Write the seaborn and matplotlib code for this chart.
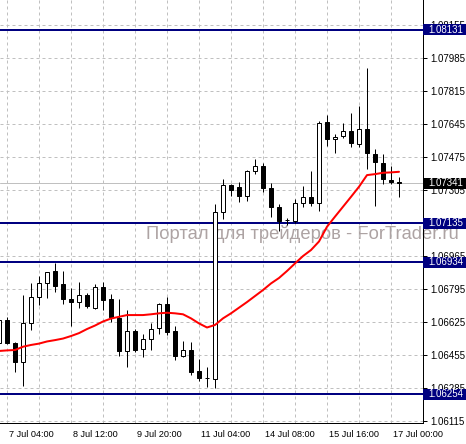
import matplotlib
matplotlib.use('Agg')
import matplotlib.pyplot as plt
import matplotlib.transforms as mtransforms
from matplotlib.patches import Rectangle
import pandas as pd
import seaborn as sns

# H4 bars, indexed by position on the chart (MT4 style, no time gaps)
bar_idx = list(range(-1, 50))
opens = [1.06515, 1.06635, 1.06515, 1.06421, 1.06618, 1.06752, 1.06824, 1.06889, 1.06819, 1.06744,
         1.06727, 1.06764, 1.06699, 1.06807, 1.06742, 1.06647, 1.06477, 1.06577, 1.06484, 1.06536,
         1.06593, 1.06716, 1.06579, 1.06451, 1.06479, 1.06373, 1.06339, 1.06330, 1.07190, 1.07331,
         1.07319, 1.07276, 1.07401, 1.07429, 1.07314, 1.07216, 1.07150, 1.07147, 1.07236, 1.07267,
         1.07240, 1.07654, 1.07566, 1.07585, 1.07611, 1.07540, 1.07618, 1.07489, 1.07443, 1.07357,
         1.07348]
closes = [1.06635, 1.06515, 1.06421, 1.06618, 1.06752, 1.06824, 1.06881, 1.06812, 1.06742, 1.06730,
          1.06764, 1.06709, 1.06807, 1.06738, 1.06649, 1.06477, 1.06577, 1.06481, 1.06536, 1.06587,
          1.06716, 1.06575, 1.06451, 1.06479, 1.06369, 1.06338, 1.06339, 1.07192, 1.07329, 1.07305,
          1.07276, 1.07401, 1.07429, 1.07314, 1.07216, 1.07147, 1.07150, 1.07236, 1.07267, 1.07240,
          1.07649, 1.07566, 1.07580, 1.07611, 1.07546, 1.07618, 1.07494, 1.07448, 1.07360, 1.07348,
          1.07341]
highs = [1.06661, 1.06652, 1.06520, 1.06764, 1.06824, 1.06864, 1.06884, 1.06929, 1.06888, 1.06799,
         1.06833, 1.06773, 1.06819, 1.06831, 1.06768, 1.06744, 1.06687, 1.06589, 1.06562, 1.06618,
         1.06721, 1.06752, 1.06606, 1.06527, 1.06520, 1.06434, 1.06393, 1.07231, 1.07360, 1.07334,
         1.07348, 1.07408, 1.07465, 1.07443, 1.07340, 1.07233, 1.07159, 1.07257, 1.07326, 1.07403,
         1.07660, 1.07691, 1.07594, 1.07649, 1.07703, 1.07738, 1.07932, 1.07515, 1.07489, 1.07429,
         1.07374]
lows = [1.06501, 1.06512, 1.06369, 1.06297, 1.06584, 1.06713, 1.06747, 1.06778, 1.06716, 1.06606,
        1.06699, 1.06699, 1.06692, 1.06687, 1.06623, 1.06451, 1.06395, 1.06469, 1.06446, 1.06481,
        1.06563, 1.06558, 1.06429, 1.06443, 1.06352, 1.06321, 1.06290, 1.06285, 1.07156, 1.07276,
        1.07245, 1.07250, 1.07387, 1.07296, 1.07168, 1.07094, 1.07125, 1.07137, 1.07220, 1.07225,
        1.07198, 1.07532, 1.07497, 1.07571, 1.07528, 1.07525, 1.07412, 1.07224, 1.07336, 1.07334,
        1.07267]
ma_values = [1.06476, 1.06479, 1.06481, 1.06498, 1.06507, 1.06514, 1.06525, 1.06532, 1.06540, 1.06553,
             1.06568, 1.06589, 1.06607, 1.06628, 1.06643, 1.06652, 1.06661, 1.06661, 1.06661, 1.06665,
             1.06670, 1.06673, 1.06670, 1.06665, 1.06644, 1.06618, 1.06597, 1.06610, 1.06644, 1.06670,
             1.06699, 1.06728, 1.06759, 1.06790, 1.06824, 1.06852, 1.06888, 1.06927, 1.06965, 1.06996,
             1.07040, 1.07116, 1.07168, 1.07219, 1.07270, 1.07322, 1.07382, 1.07387, 1.07394, 1.07396,
             1.07399]

date_ticks = [0, 8, 16, 24, 32, 40, 48]
date_labels = ['7 Jul 04:00', '8 Jul 12:00', '9 Jul 20:00', '11 Jul 04:00',
               '14 Jul 08:00', '15 Jul 16:00', '17 Jul 00:00']
price_ticks = [1.06115, 1.06285, 1.06455, 1.06625, 1.06795, 1.06965, 1.07135,
               1.07305, 1.07475, 1.07645, 1.07815, 1.07985, 1.08155]
levels = [1.08131, 1.07135, 1.06934, 1.06254]
last_price = 1.07341
watermark = 'Портал для трейдеров - ForTrader.ru'

PX = 72 / 100  # one pixel in points

sns.set_style('white')
plt.rcParams['font.family'] = ['Liberation Sans', 'DejaVu Sans']

fig = plt.figure(figsize=(4.66, 4.44), dpi=100, facecolor='white')
ax = fig.add_axes([0, 21 / 444, 423 / 466, 423 / 444])
ax.set_facecolor('none')

df = pd.DataFrame({'bar': bar_idx, 'open': opens, 'close': closes,
                   'high': highs, 'low': lows, 'ma': ma_values})

# grid
ax.set_xticks(date_ticks)
ax.set_xticks([t + 4 for t in date_ticks], minor=True)
ax.grid(True, which='both', color='#c0c0c0', lw=PX, ls=(0, (3, 3)), zorder=0)
ax.set_axisbelow(True)

ax.axhline(last_price, color='#c0c0c0', lw=PX, zorder=1)
for lv in levels:
    ax.axhline(lv, color='#000080', lw=2 * PX, zorder=1.5)

# candles
ax.vlines(df.bar, df.low, df.high, color='black', lw=PX, zorder=2)
up = df[df.close >= df.open]
down = df[df.close < df.open]
ax.bar(up.bar, up.close - up.open, bottom=up.open, width=0.62,
       color='white', edgecolor='black', lw=PX, zorder=3)
ax.bar(down.bar, down.close - down.open, bottom=down.open, width=0.62,
       color='black', edgecolor='black', lw=PX, zorder=3)

sns.lineplot(data=df, x='bar', y='ma', color='#ff0000', lw=2 * PX, ax=ax, zorder=4)

ax.set_xlim(-0.875, 52)
ax.set_ylim(1.06105, 1.08284)
ax.set_xlabel('')
ax.set_ylabel('')

ax.set_xticklabels(date_labels, fontsize=6.6, ha='left')
ax.yaxis.tick_right()
ax.set_yticks(price_ticks)
ax.set_yticklabels([f'{p:.5f}' for p in price_ticks], fontsize=7)
ax.tick_params(axis='both', which='major', direction='out', length=3, width=PX, pad=2, colors='black')
ax.tick_params(axis='x', which='minor', length=0)
offset = mtransforms.ScaledTranslation(2 / 100, 0, fig.dpi_scale_trans)
for lab in ax.get_xticklabels():
    lab.set_transform(lab.get_transform() + offset)

for side in ['left', 'top']:
    ax.spines[side].set_visible(False)
for side in ['right', 'bottom']:
    ax.spines[side].set_color('black')
    ax.spines[side].set_linewidth(PX)

# price labels on the right scale
trans = ax.get_yaxis_transform()
box_h = 11 * (1.08284 - 1.06105) / 423
box_w = 43 / 423
for val, fc in [(v, '#000080') for v in levels] + [(last_price, 'black')]:
    ax.add_patch(Rectangle((1.0, val - box_h / 2), box_w, box_h, transform=trans,
                           facecolor=fc, edgecolor='none', clip_on=False, zorder=10))
    ax.text(1.0 + 5 / 423, val, f'{val:.5f}', transform=trans, color='white',
            fontsize=7, va='center', ha='left', zorder=11, clip_on=False)

# watermark sits behind the chart
fig.text(459 / 466, 1 - 238.5 / 444, watermark, ha='right', va='baseline',
         fontsize=13.2, color='#ada3a3', zorder=-1)

fig.savefig('out.png', dpi=100, facecolor='white')
